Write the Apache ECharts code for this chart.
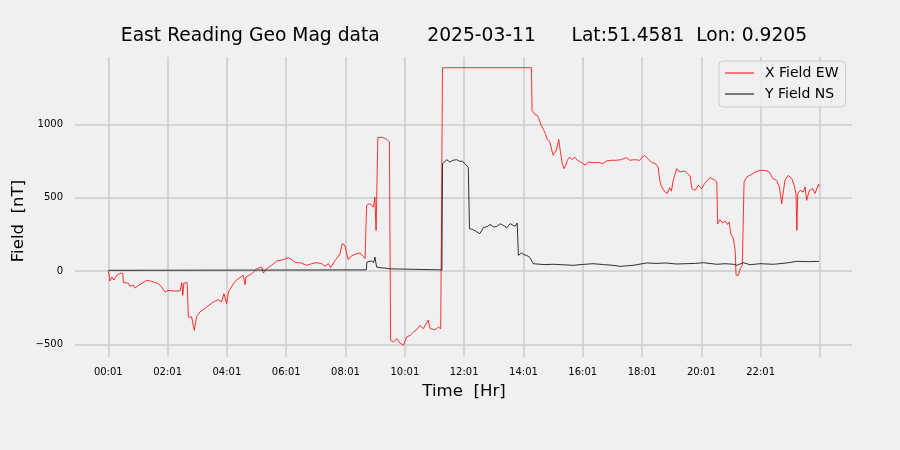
<!DOCTYPE html>
<html>
<head>
<meta charset="utf-8">
<script src="https://cdn.jsdelivr.net/npm/echarts@6/dist/echarts.min.js"></script>
<style>
html,body{margin:0;padding:0;background:#f0f0f0;}
#chart{width:900px;height:450px;}
</style>
</head>
<body>
<div id="chart"></div>
<script>
// Hours after 00:01 for each reading, and field values in nT
const xFieldHours = [0.00,0.06,0.12,0.19,0.28,0.42,0.49,0.51,0.67,0.73,0.84,0.90,1.07,1.30,1.46,1.69,1.80,1.91,2.02,2.19,2.42,2.48,2.51,2.55,2.66,2.70,2.81,2.90,2.98,3.09,3.32,3.54,3.71,3.82,3.90,3.99,4.05,4.22,4.33,4.44,4.55,4.61,4.64,4.84,5.01,5.17,5.23,5.34,5.51,5.68,5.90,6.07,6.19,6.30,6.47,6.69,6.86,7.03,7.20,7.31,7.42,7.50,7.65,7.81,7.89,7.98,8.09,8.18,8.32,8.49,8.55,8.60,8.66,8.71,8.82,8.94,8.99,9.03,9.05,9.09,9.22,9.39,9.48,9.52,9.61,9.73,9.84,9.95,10.06,10.18,10.29,10.40,10.51,10.62,10.79,10.85,11.02,11.13,11.21,11.25,11.27,14.27,14.29,14.38,14.47,14.52,14.60,14.69,14.74,14.81,14.89,14.95,15.00,15.06,15.11,15.19,15.24,15.31,15.37,15.43,15.48,15.56,15.64,15.73,15.82,15.93,16.01,16.09,16.18,16.35,16.52,16.68,16.80,16.96,17.13,17.30,17.47,17.59,17.75,17.92,18.07,18.20,18.31,18.48,18.54,18.60,18.65,18.77,18.85,18.93,18.99,19.05,19.10,19.17,19.27,19.44,19.55,19.62,19.68,19.79,19.90,20.01,20.09,20.18,20.29,20.43,20.52,20.55,20.63,20.71,20.80,20.88,20.94,20.99,21.08,21.14,21.17,21.25,21.31,21.38,21.44,21.53,21.70,21.81,21.98,22.15,22.29,22.41,22.54,22.63,22.71,22.77,22.82,22.93,23.05,23.13,23.19,23.22,23.25,23.33,23.44,23.50,23.55,23.64,23.76,23.83,23.95,23.98];
const xFieldEW = [0,-68,-41,-62,-29,-14,-18,-79,-82,-104,-97,-116,-91,-63,-70,-86,-109,-143,-132,-136,-136,-79,-166,-82,-79,-314,-314,-404,-309,-279,-245,-211,-195,-211,-154,-222,-143,-86,-59,-45,-29,-93,-41,-18,16,27,-14,16,39,68,78,91,78,57,57,39,50,57,50,32,50,23,73,114,187,175,78,100,114,123,130,100,85,448,459,436,504,277,482,909,913,898,879,-472,-484,-461,-491,-506,-450,-438,-416,-400,-370,-393,-336,-393,-400,-382,-393,-382,1386,1386,1095,1068,1061,1039,993,959,936,896,879,879,789,800,823,896,823,732,698,721,755,777,759,777,755,743,732,721,743,739,741,732,750,755,755,759,773,755,759,755,789,766,743,727,709,618,577,539,528,568,545,618,652,698,675,682,659,650,562,550,584,562,591,614,637,623,607,323,350,327,341,318,334,255,221,141,-29,-29,16,39,607,641,659,675,686,686,675,630,618,573,459,550,618,652,630,584,528,277,528,550,539,573,482,550,562,528,591,577];

const yFieldHours = [0.00,8.70,8.72,8.78,8.88,8.95,8.99,9.05,9.16,9.33,9.48,9.53,11.25,11.27,11.35,11.41,11.52,11.62,11.75,11.85,11.92,12.03,12.14,12.18,12.31,12.42,12.48,12.53,12.65,12.80,12.87,13.00,13.10,13.22,13.32,13.45,13.55,13.65,13.72,13.79,13.83,13.94,14.03,14.11,14.22,14.33,14.70,15.01,15.40,15.68,16.00,16.35,16.70,17.02,17.26,17.70,18.16,18.50,18.81,19.15,19.48,19.80,20.07,20.52,20.80,21.08,21.20,21.41,21.64,21.98,22.43,22.88,23.22,23.60,23.97];
const yFieldNS = [5,8,61,55,68,58,95,27,23,20,15,8,8,732,745,759,743,755,759,748,750,732,705,289,282,268,277,255,296,305,318,300,305,322,311,296,323,312,305,327,107,123,110,107,91,50,44,46,42,39,45,50,44,39,32,39,55,52,55,48,50,52,57,46,50,46,39,57,43,50,46,55,66,64,66];

const xTickPositions = [0,2,4,6,8,10,12,14,16,18,20,22,24];
const xTickLabels = ['00:01','02:01','04:01','06:01','08:01','10:01','12:01','14:01','16:01','18:01','20:01','22:01'];
const yTickValues = [-500,0,500,1000];

const redData = xFieldHours.map((h, i) => [h, xFieldEW[i]]);
const blackData = yFieldHours.map((h, i) => [h, yFieldNS[i]]);

const chart = echarts.init(document.getElementById('chart'), null, {renderer: 'canvas'});
const FONT = 'DejaVu Sans';
chart.setOption({
  animation: false,
  backgroundColor: '#f0f0f0',
  textStyle: {fontFamily: FONT},
  grid: {left: 75, right: 48, top: 57, bottom: 93, containLabel: false},
  xAxis: {
    type: 'value',
    min: -1.123,
    max: 25.08,
    axisLine: {show: false},
    axisTick: {show: false, customValues: xTickPositions},
    axisLabel: {
      customValues: xTickPositions.slice(0, xTickLabels.length),
      formatter: v => xTickLabels[xTickPositions.indexOf(Math.round(v))] || '',
      fontFamily: FONT, fontSize: 10, color: '#000', margin: 10
    },
    splitLine: {show: true, lineStyle: {color: '#cbcbcb', width: 1.5}}
  },
  yAxis: {
    type: 'value',
    min: -586,
    max: 1459,
    axisLine: {show: false},
    axisTick: {show: false, customValues: yTickValues},
    axisLabel: {
      customValues: yTickValues,
      formatter: v => (v < 0 ? '\u2212' + Math.abs(v) : String(v)),
      fontFamily: FONT, fontSize: 10, color: '#000', margin: 12
    },
    splitLine: {show: true, lineStyle: {color: '#cbcbcb', width: 1.5}}
  },
  legend: {
    orient: 'vertical',
    left: 719,
    top: 61,
    padding: [5, 7, 6, 6],
    itemGap: 7,
    itemWidth: 29,
    itemHeight: 1,
    icon: 'rect',
    backgroundColor: 'rgba(240,240,240,0.8)',
    borderColor: '#cccccc',
    borderWidth: 1,
    borderRadius: 4,
    textStyle: {fontFamily: FONT, fontSize: 14, color: '#000', lineHeight: 14, padding: [0, 0, 0, 6]},
    data: ['X Field EW', 'Y Field NS']
  },
  graphic: [
    {type: 'text', x: 464, y: 36,
     style: {text: 'East Reading Geo Mag data        2025-03-11      Lat:51.4581  Lon: 0.9205',
             font: '18.7px "DejaVu Sans"', fill: '#000', align: 'center', verticalAlign: 'middle'}},
    {type: 'text', x: 464, y: 392,
     style: {text: 'Time  [Hr]', font: '16.6px "DejaVu Sans"', fill: '#000', align: 'center', verticalAlign: 'middle'}},
    {type: 'text', x: 19, y: 221, rotation: Math.PI / 2,
     style: {text: 'Field  [nT]', font: '16.6px "DejaVu Sans"', fill: '#000', align: 'center', verticalAlign: 'middle'}}
  ],
  series: [
    {name: 'X Field EW', type: 'line', data: redData, showSymbol: false, symbol: 'none',
     color: '#ff0000', lineStyle: {color: '#ff0000', width: 0.8}, z: 2},
    {name: 'Y Field NS', type: 'line', data: blackData, showSymbol: false, symbol: 'none',
     color: '#000000', lineStyle: {color: '#000000', width: 0.8}, z: 3}
  ]
});
</script>
</body>
</html>
